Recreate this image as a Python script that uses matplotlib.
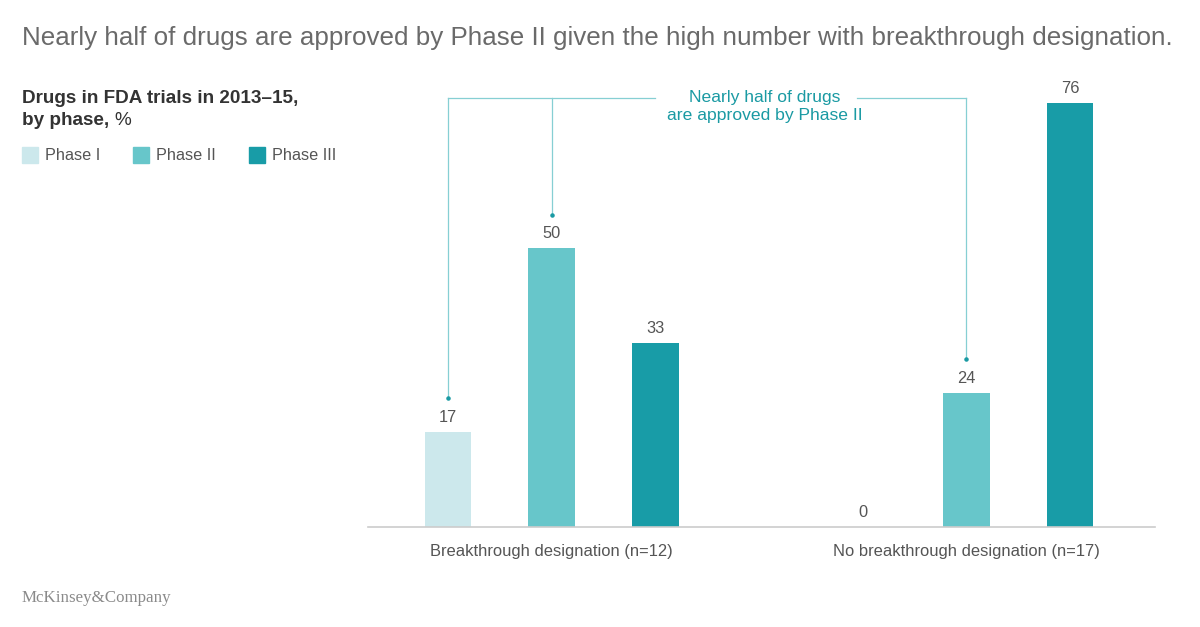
import numpy as np
import matplotlib.pyplot as plt

plt.rcParams["font.family"] = ["Liberation Sans", "DejaVu Sans"]

groups = ["Breakthrough designation (n=12)", "No breakthrough designation (n=17)"]
phases = ["Phase I", "Phase II", "Phase III"]
values = [[17, 50, 33], [0, 24, 76]]
colors = ["#cce8ec", "#67c6ca", "#189ca7"]

gray = "#555555"
teal = "#1a9aa3"
teal_line = "#86cfd3"

fig = plt.figure(figsize=(12, 6.27), dpi=100)
ax = fig.add_axes([0.3067, 0.1595, 0.9625 - 0.3067, 0.8357 - 0.1595])

group_x = np.array([0.0, 4.0])
offsets = np.array([-1.0, 0.0, 1.0])
for i, ph in enumerate(phases):
    xs = group_x + offsets[i]
    vals = [v[i] for v in values]
    ax.bar(xs, vals, width=0.45, color=colors[i], label=ph)
    for x, v in zip(xs, vals):
        ax.text(x, v + 2.6, str(v), ha="center", va="center", fontsize=11.8, color=gray)

ax.set_xlim(-1.77, 5.82)
ax.set_ylim(0, 76)
for s in ["top", "right", "left"]:
    ax.spines[s].set_visible(False)
ax.spines["bottom"].set_color("#cccccc")
ax.spines["bottom"].set_linewidth(1.2)
ax.set_yticks([])
ax.set_xticks(group_x)
ax.set_xticklabels(groups, fontsize=11.9, color=gray)
ax.tick_params(axis="x", length=0, pad=12)

# bracket annotation
top_y = 76.9
kw = dict(color=teal_line, lw=0.9, clip_on=False)
ax.plot([-1, -1], [values[0][0] + 6.2, top_y], **kw)
ax.plot([0, 0], [values[0][1] + 6.0, top_y], **kw)
ax.plot([4, 4], [values[1][1] + 6.2, top_y], **kw)
ax.plot([-1, 1.0], [top_y, top_y], **kw)
ax.plot([2.95, 4], [top_y, top_y], **kw)
ax.scatter([-1, 0, 4], [values[0][0] + 6.2, values[0][1] + 6.0, values[1][1] + 6.2],
           s=5, color=teal, zorder=3, clip_on=False)
ax.text(2.06, 75.4, "Nearly half of drugs\nare approved by Phase II", ha="center",
        va="center", fontsize=12.6, color=teal, linespacing=1.25)

# titles
fig.text(0.018, 1 - 38 / 627, "Nearly half of drugs are approved by Phase II given the high number with breakthrough designation.",
         fontsize=18.7, color="#6a6a6a", va="center")
fig.text(0.018, 0.843, "Drugs in FDA trials in 2013\u201315,", fontsize=13.6, fontweight="bold",
         color="#333333", va="center")
t = fig.text(0.018, 0.808, "by phase, ", fontsize=13.6, fontweight="bold", color="#333333", va="center")
fig.canvas.draw()
bb = t.get_window_extent()
fig.text(bb.x1 / fig.bbox.width, 0.808, "%", fontsize=13.6, color="#333333", va="center")

# legend
leg_x = [22, 133, 249]
for i, ph in enumerate(phases):
    fig.patches.append(plt.Rectangle((leg_x[i] / 1200, 1 - 163 / 627), 16 / 1200, 16 / 627,
                                     transform=fig.transFigure, color=colors[i]))
    fig.text((leg_x[i] + 23) / 1200, 1 - 155 / 627, ph, fontsize=11.7, color=gray, va="center")

fig.text(0.018, 1 - 598 / 627, "McKinsey&Company", fontsize=12.2, color="#8a8a8a",
         family=["Liberation Serif", "DejaVu Serif"], va="center")

fig.savefig("out.png", dpi=100)
